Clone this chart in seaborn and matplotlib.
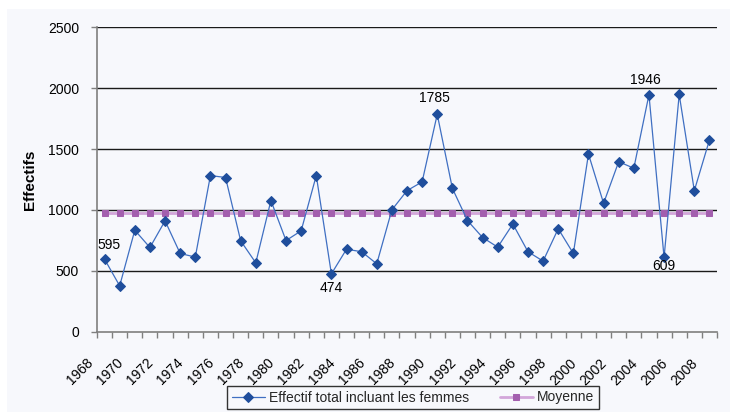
import matplotlib
matplotlib.use("Agg")
import matplotlib.pyplot as plt
import matplotlib.transforms as mtransforms
from matplotlib.patches import Rectangle
import numpy as np
import pandas as pd
import seaborn as sns

# ---------------- data ----------------
years = list(range(1968, 2009))
effectif = [595, 376, 833, 691, 910, 642, 612, 1282, 1266, 746,
            565, 1077, 748, 828, 1282, 474, 677, 656, 557, 1000,
            1158, 1230, 1785, 1177, 912, 773, 694, 884, 656, 579,
            845, 642, 1459, 1054, 1396, 1342, 1946, 609, 1948, 1158,
            1574]
moyenne_value = 975
moyenne = [moyenne_value] * len(years)
series_names = ["Effectif total incluant les femmes", "Moyenne"]
y_ticks = [0, 500, 1000, 1500, 2000, 2500]
x_tick_years = years[::2]
# labelled points: year -> (dx, dy) offset in pixels
labelled = {1968: (4, 14), 1983: (0, -14), 1990: (-3, 16), 2004: (-4, 15), 2005: (0, -9)}

# ---------------- style ----------------
sns.set_theme(style="white")
plt.rcParams["font.family"] = ["Liberation Sans", "DejaVu Sans"]
plt.rcParams["axes.unicode_minus"] = False

W, H = 731, 412
fig = plt.figure(figsize=(W / 100, H / 100), dpi=100, facecolor="white")
bg = "#F7F8FC"
fig.patches.append(Rectangle((7 / W, 0), (730 - 7) / W, 1 - 9 / H,
                             transform=fig.transFigure, facecolor=bg,
                             edgecolor="none", zorder=-10))

left, right, top, bottom = 97, 717, 27.3, 331.6
ax = fig.add_axes([left / W, 1 - bottom / H, (right - left) / W, (bottom - top) / H])
ax.set_facecolor("none")
ax.set_zorder(1)

df = pd.DataFrame({"idx": np.arange(len(years)), "year": years,
                   "effectif": effectif, "moyenne": moyenne})

# grid lines
for v in y_ticks[1:]:
    ax.axhline(v, color="#1a1a1a", lw=1.0, zorder=1)

sns.lineplot(data=df, x="idx", y="effectif", ax=ax, color="#3F6FC2", lw=0.9,
             marker="D", markersize=5, markerfacecolor="#1F4E9C",
             markeredgecolor="#1F4E9C", label=series_names[0], zorder=4)
sns.lineplot(data=df, x="idx", y="moyenne", ax=ax, color="#D3A6DA", lw=2.0,
             marker="s", markersize=5, markerfacecolor="#A35FAE",
             markeredgecolor="#A35FAE", label=series_names[1], zorder=3)

ax.set_xlim(-0.5, len(years) - 0.5)
ax.set_ylim(0, 2500)
ax.set_yticks(y_ticks)
ax.set_yticklabels([str(v) for v in y_ticks], fontsize=10, color="black")
ax.tick_params(axis="y", which="major", length=4, width=1, color="#7F7F7F",
               direction="out", pad=9, left=True)

ax.set_xticks([years.index(y) for y in x_tick_years])
ax.set_xticklabels([str(y) for y in x_tick_years], fontsize=10, color="black")
ax.set_xticks(np.arange(-0.5, len(years), 1.0), minor=True)
ax.tick_params(axis="x", which="major", length=0, pad=21, bottom=True)
ax.tick_params(axis="x", which="minor", length=4, width=1, color="#7F7F7F",
               direction="out", bottom=True)
off = mtransforms.ScaledTranslation(-14 / 100, 0, fig.dpi_scale_trans)
for lbl in ax.get_xticklabels():
    lbl.set_rotation(45)
    lbl.set_ha("right")
    lbl.set_va("center")
    lbl.set_rotation_mode("anchor")
    lbl.set_transform(lbl.get_transform() + off)

for s in ["top", "right"]:
    ax.spines[s].set_visible(False)
for s in ["left", "bottom"]:
    ax.spines[s].set_color("#7F7F7F")
    ax.spines[s].set_linewidth(1.2)

ax.set_xlabel("")
ax.set_ylabel("Effectifs", fontsize=11, fontweight="bold", color="black")
ax.yaxis.set_label_coords((37 - left) / (right - left), 0.5)

for yr, (dx, dy) in labelled.items():
    i = years.index(yr)
    ax.annotate(str(effectif[i]), (i, effectif[i]), xytext=(dx, dy),
                textcoords="offset pixels", ha="center", va="center",
                fontsize=10, color="black", zorder=5)

handles, labels = ax.get_legend_handles_labels()
if ax.get_legend() is not None:
    ax.get_legend().remove()
leg = fig.legend(handles, labels, loc="center", bbox_to_anchor=(413 / W, 1 - 397.5 / H),
                 ncol=2, frameon=True, fancybox=False, edgecolor="#333333",
                 facecolor=bg, framealpha=1, fontsize=10, handlelength=2.4,
                 columnspacing=2.2, borderpad=0.3, handletextpad=0.3)
leg.get_frame().set_linewidth(1.0)
leg.set_zorder(5)

fig.savefig("out.png", dpi=100, facecolor="white")
